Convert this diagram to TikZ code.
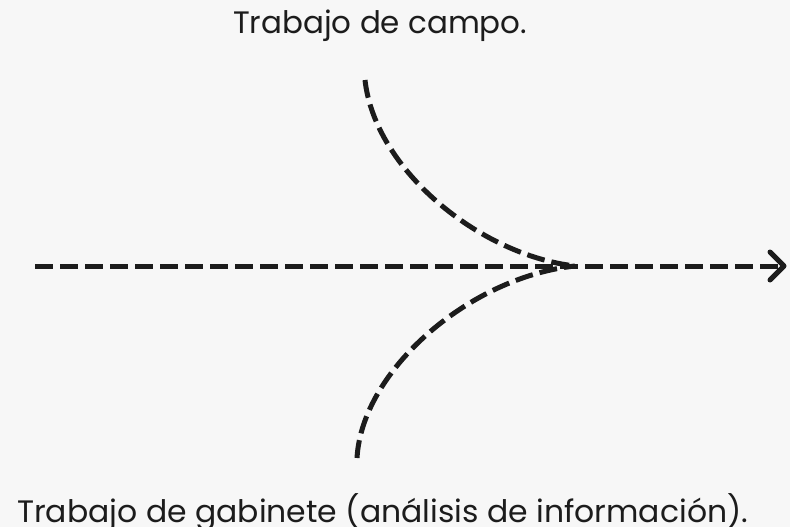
\documentclass[tikz,border=0pt]{standalone}
\usepackage{fontspec}
\setmainfont{Poppins}
\usetikzlibrary{calc}
\definecolor{bg}{HTML}{F7F7F7}
\definecolor{ink}{HTML}{1C1C1C}
\begin{document}
\begin{tikzpicture}[x=1pt,y=-1pt,
  dline/.style={draw=ink,line width=5pt,dash pattern=on 18pt off 7pt},
  lbl/.style={text=ink,inner sep=0pt,anchor=base west,font=\fontsize{31}{36}\selectfont}]
\fill[bg] (0,0) rectangle (790,527);
\useasboundingbox (0,0) rectangle (790,527);
\node[lbl] (top) at (233,34) {\resizebox{294pt}{\height}{Trabajo de campo.}};
\node[lbl] (bot) at (17,522) {\resizebox{731pt}{\height}{Trabajo de gabinete (análisis de información).}};
\coordinate (L) at (35,266);
\coordinate (R) at (784,266);
\coordinate (M) at (575,266);
\coordinate (U) at (365,80);
\coordinate (D) at (357,458);
\draw[dline] (L) -- (R);
\draw[dline] (U) .. controls (375,170) and (480,255) .. (M);
\draw[dline] (D) .. controls (362,370) and (470,277) .. (M);
\draw[ink,line width=5pt,line cap=round,line join=round] ($(R)+(-14,-14)$) -- (R) -- ($(R)+(-14,14)$);
\end{tikzpicture}
\end{document}
